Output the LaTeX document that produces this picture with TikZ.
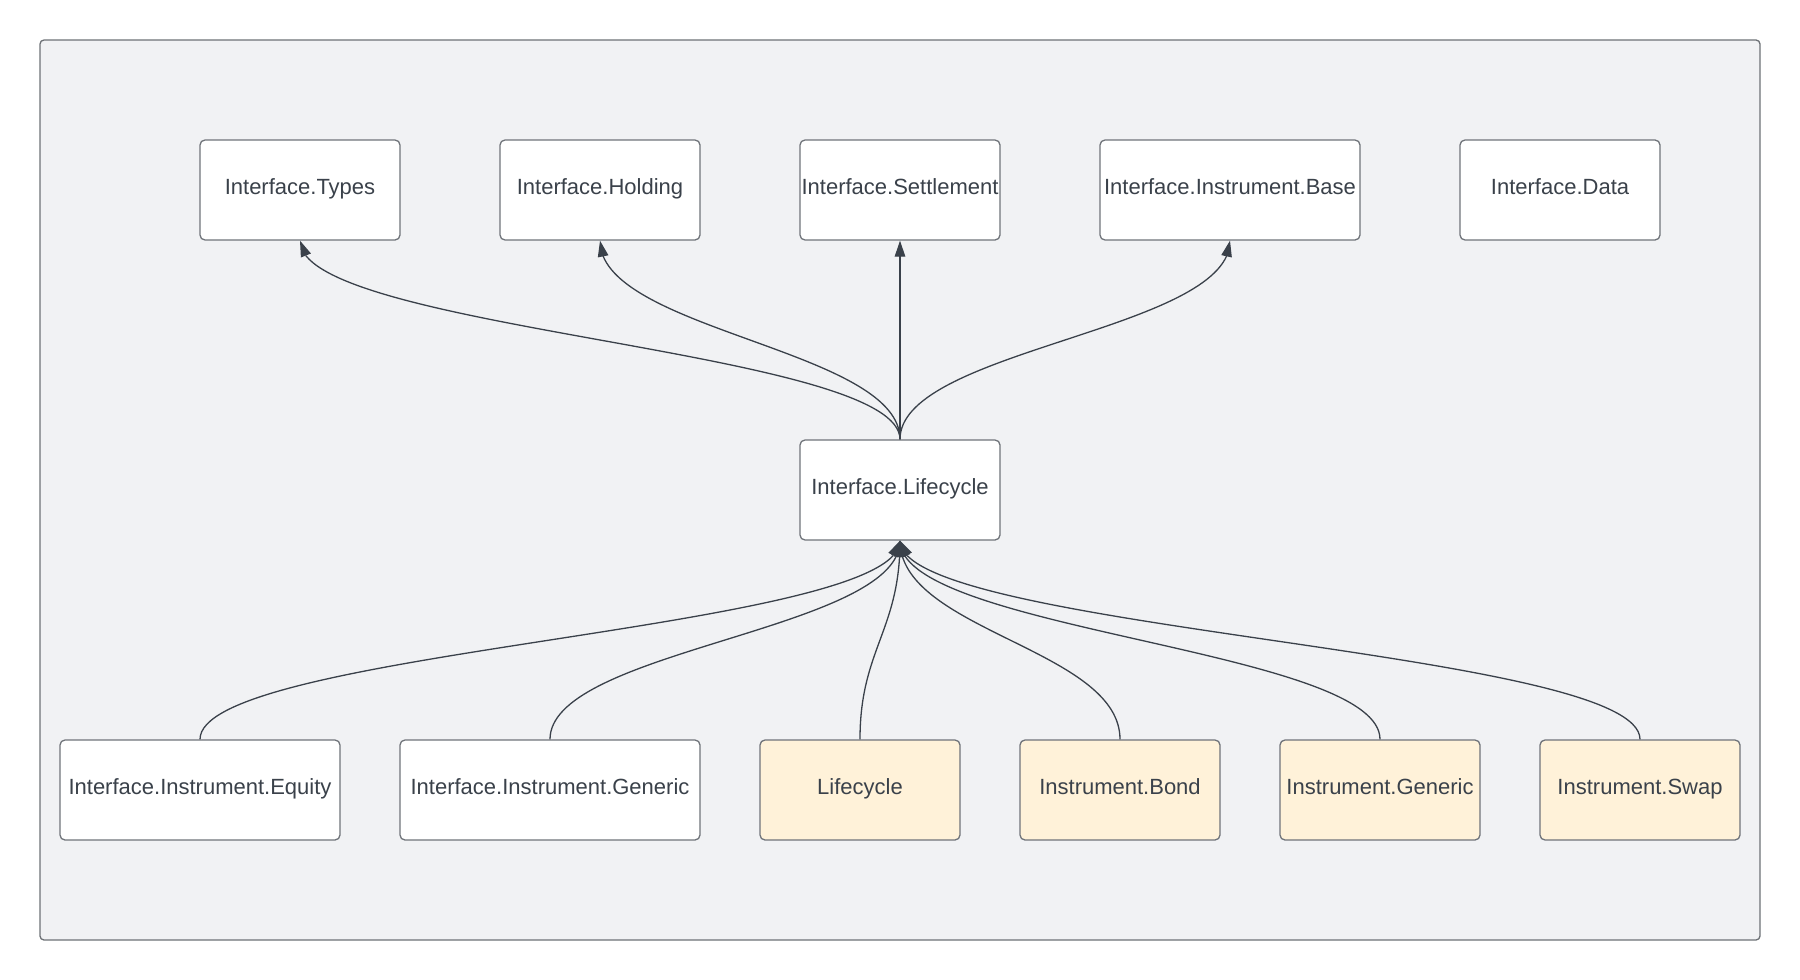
\documentclass[tikz,border=0pt]{standalone}
\usepackage{fontspec}
\setmainfont{Liberation Sans}
\usetikzlibrary{arrows.meta,bending}

\definecolor{panelfill}{HTML}{F1F2F4}
\definecolor{panelline}{HTML}{6E7277}
\definecolor{boxline}{HTML}{70747A}
\definecolor{inkdark}{HTML}{3A414A}
\definecolor{impl}{HTML}{FFF2D9}

\tikzset{
  module/.style={draw=boxline, line width=1.3pt, fill=white, rounded corners=5pt,
    minimum height=100pt, inner sep=0pt, text=inkdark,
    text height=16pt, text depth=7pt,
    font=\fontsize{22}{26}\selectfont},
  implmod/.style={module, fill=impl},
  dep/.style={draw=inkdark, line width=1.3pt,
    -{Triangle[length=16pt,width=10.5pt]}},
}

\begin{document}
\begin{tikzpicture}[x=1pt, y=-1pt]
  \useasboundingbox (0,0) rectangle (1800,980);
  \fill[white] (0,0) rectangle (1800,980);

  % package frame
  \draw[draw=panelline, line width=1.3pt, fill=panelfill, rounded corners=4pt]
    (40,40) rectangle (1760,940);

  % interface layer
  \node[module, minimum width=200pt] (types)  at (300,190)  {Interface.Types};
  \node[module, minimum width=200pt] (hold)   at (600,190)  {Interface.Holding};
  \node[module, minimum width=200pt] (settle) at (900,190)  {Interface.Settlement};
  \node[module, minimum width=260pt] (ibase)  at (1230,190) {Interface.Instrument.Base};
  \node[module, minimum width=200pt] (idata)  at (1560,190) {Interface.Data};

  % lifecycle interface
  \node[module, minimum width=200pt] (ilc) at (900,490) {Interface.Lifecycle};

  % dependents
  \node[module,  minimum width=280pt] (ieq)   at (200,790)  {Interface.Instrument.Equity};
  \node[module,  minimum width=300pt] (igen)  at (550,790)  {Interface.Instrument.Generic};
  \node[implmod, minimum width=200pt] (lc)    at (860,790)  {Lifecycle};
  \node[implmod, minimum width=200pt] (bond)  at (1120,790) {Instrument.Bond};
  \node[implmod, minimum width=200pt] (gen)   at (1380,790) {Instrument.Generic};
  \node[implmod, minimum width=200pt] (swap)  at (1640,790) {Instrument.Swap};

  % upward dependencies of Interface.Lifecycle
  \foreach \t in {types,hold,settle,ibase}
    \draw[dep] (ilc.north) .. controls +(0,-90) and +(0,90) .. (\t.south);

  % modules depending on Interface.Lifecycle
  \foreach \s in {ieq,igen,lc,bond,gen,swap}
    \draw[dep] (\s.north) .. controls +(0,-90) and +(0,90) .. (ilc.south);
\end{tikzpicture}
\end{document}
